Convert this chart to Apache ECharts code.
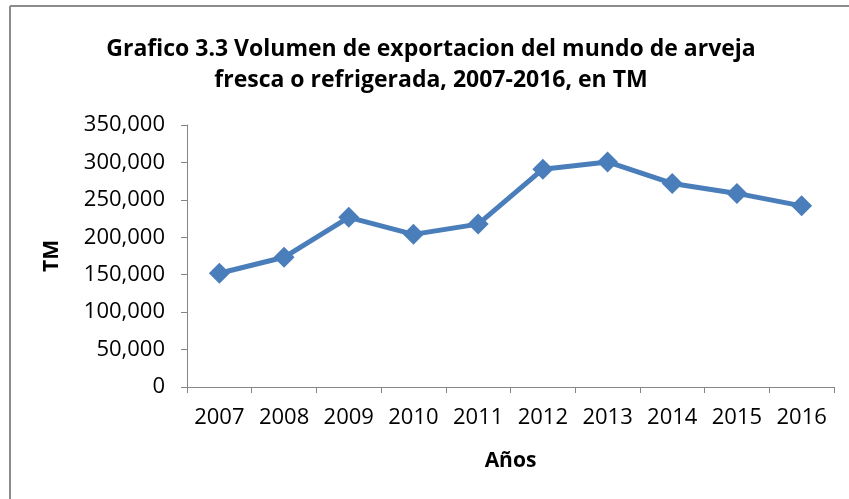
<!DOCTYPE html>
<html>
<head>
<meta charset="utf-8">
<script src="https://cdn.jsdelivr.net/npm/echarts@6/dist/echarts.min.js"></script>
<style>
  html, body { margin: 0; padding: 0; background: #fff; }
</style>
</head>
<body>
<div id="myChart" style="width:849px;height:499px"></div>
<script>
var years = ['2007', '2008', '2009', '2010', '2011', '2012', '2013', '2014', '2015', '2016']
var volumen = [151900, 173300, 226600, 203900, 217600, 291000, 300700, 271900, 258600, 242000]
var titleLines = ['Grafico 3.3 Volumen de exportacion del mundo de arveja', 'fresca o refrigerada, 2007-2016, en TM']

var font = '"Open Sans", "DejaVu Sans", sans-serif'

var myChart = echarts.init(document.getElementById('myChart'))

var options = {
  animation: false,
  graphic: [{
    type: 'line',
    shape: { x1: 10, y1: 6, x2: 849, y2: 6 },
    style: { stroke: '#8c8c8c', lineWidth: 2 }
  }, {
    type: 'line',
    shape: { x1: 10, y1: 6, x2: 10, y2: 499 },
    style: { stroke: '#8c8c8c', lineWidth: 2 }
  }, {
    type: 'text',
    x: 431,
    y: 34,
    style: {
      text: titleLines.join('\n'),
      font: 'bold 23px ' + font,
      lineHeight: 31,
      fill: '#000',
      align: 'center'
    }
  }],
  grid: {
    left: 187,
    right: 15,
    top: 125,
    bottom: 112
  },
  xAxis: {
    type: 'category',
    data: years,
    boundaryGap: true,
    name: 'Años',
    nameLocation: 'middle',
    nameGap: 64,
    nameTextStyle: { fontFamily: font, fontWeight: 'bold', fontSize: 21, color: '#000' },
    axisLine: { lineStyle: { color: '#868686', width: 1 } },
    axisTick: { show: true, length: 6, lineStyle: { color: '#868686' } },
    axisLabel: { margin: 20, fontFamily: font, fontSize: 22, color: '#000', interval: 0 },
    splitLine: { show: false }
  },
  yAxis: {
    type: 'value',
    min: 0,
    max: 350000,
    interval: 50000,
    name: 'TM',
    nameLocation: 'middle',
    nameGap: 124,
    nameRotate: 90,
    nameTextStyle: { fontFamily: font, fontWeight: 'bold', fontSize: 21, color: '#000' },
    axisLine: { show: true, lineStyle: { color: '#868686', width: 1 } },
    axisTick: { show: true, length: 6, lineStyle: { color: '#868686' } },
    axisLabel: {
      margin: 22,
      fontFamily: font,
      fontSize: 22,
      color: '#000',
      formatter: function (v) { return v.toLocaleString('en-US') }
    },
    splitLine: { show: false }
  },
  series: [{
    name: 'Volumen',
    type: 'line',
    data: volumen,
    symbol: 'diamond',
    symbolSize: 21,
    lineStyle: { color: '#4a7ebb', width: 5 },
    itemStyle: { color: '#4a7ebb' }
  }]
}

myChart.setOption(options)
</script>
</body>
</html>
